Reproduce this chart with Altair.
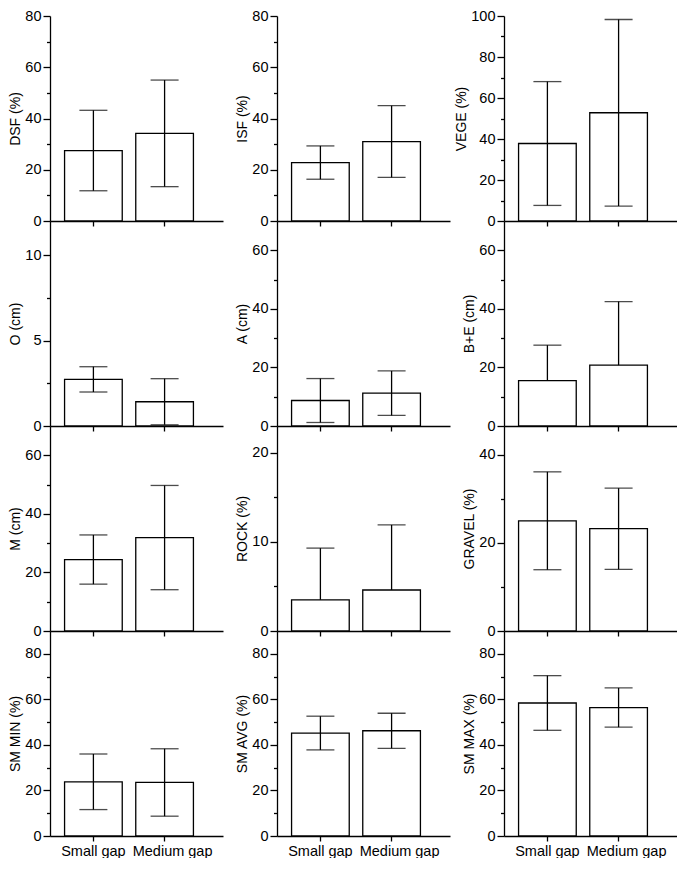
import altair as alt
import pandas as pd

gaps = ["Small gap", "Medium gap"]
titles = ["DSF (%)", "ISF (%)", "VEGE (%)",
          "O (cm)", "A (cm)", "B+E (cm)",
          "M (cm)", "ROCK (%)", "GRAVEL (%)",
          "SM MIN (%)", "SM AVG (%)", "SM MAX (%)"]
small_mean = [27.5, 22.8, 37.8, 2.73, 8.7, 15.5, 24.4, 3.5, 25.0, 23.8, 45.2, 58.4]
small_sd = [15.7, 6.5, 30.2, 0.74, 7.5, 12.1, 8.4, 5.8, 11.1, 12.2, 7.4, 12.0]
medium_mean = [34.2, 31.0, 52.8, 1.42, 11.2, 20.8, 31.9, 4.6, 23.2, 23.5, 46.2, 56.4]
medium_sd = [20.8, 14.0, 45.5, 1.35, 7.6, 21.7, 17.8, 7.3, 9.2, 14.8, 7.7, 8.6]
upper_only = [False, False, False, False, False, True, False, True, False, False, False, False]
y_max = [80, 80, 100, 12, 70, 70, 70, 23, 46.5, 90, 90, 90]
major_step = [20, 20, 20, 5, 20, 20, 20, 10, 20, 20, 20, 20]

FONT = "Liberation Sans"
W, H = 173, 205
LW = 1.3


def panel(i, row):
    means = [small_mean[i], medium_mean[i]]
    sds = [small_sd[i], medium_sd[i]]
    his = [m + s for m, s in zip(means, sds)]
    los = [m if upper_only[i] else m - s for m, s in zip(means, sds)]
    df = pd.DataFrame({"gap": gaps, "mean": means, "lo": los, "hi": his})
    step = major_step[i]
    ymax = y_max[i]
    half = step / 2
    vals = []
    k = 0
    while k * half <= ymax + 1e-9:
        v = k * half
        if k % 2 == 0 or v < ymax - 1e-9:
            vals.append(v)
        k += 1
    yscale = alt.Scale(domain=[0, ymax], nice=False, zero=True)
    yaxis = alt.Axis(
        values=vals,
        title=titles[i],
        labelExpr=f"datum.value % {step} == 0 ? datum.label : ''",
        tickSize={"condition": {"test": f"datum.value % {step} == 0", "value": 7}, "value": 3.5},
        grid=False,
    )
    xscale = alt.Scale(paddingInner=0.19, paddingOuter=0.31, align=0.33)
    xaxis = alt.Axis(
        title=None, labels=(row == 3), labelAngle=0, tickSize=5, labelPadding=3,
        labelOffset={"condition": {"test": "datum.value == 'Medium gap'", "value": 8}, "value": 0},
    )
    x = alt.X("gap:N", sort=gaps, scale=xscale, axis=xaxis)
    base = alt.Chart(df)
    bars = base.mark_bar(fill="white", stroke="black", strokeWidth=LW).encode(
        x=x, y=alt.Y("mean:Q", scale=yscale, axis=yaxis))
    err = base.mark_rule(color="black", strokeWidth=LW).encode(
        x=x, y=alt.Y("lo:Q", scale=yscale, axis=yaxis), y2="hi:Q")
    cap_hi = base.mark_tick(color="black", size=28, thickness=LW).encode(
        x=x, y=alt.Y("hi:Q", scale=yscale, axis=yaxis))
    layers = [bars, err, cap_hi]
    if not upper_only[i]:
        cap_lo = base.mark_tick(color="black", size=28, thickness=LW).encode(
            x=x, y=alt.Y("lo:Q", scale=yscale, axis=yaxis))
        layers.append(cap_lo)
    return alt.layer(*layers).properties(width=W, height=H)


panels = [panel(i, i // 3) for i in range(12)]

chart = alt.concat(
    *panels, columns=3, spacing=alt.RowColnumber(row=0, column=54), bounds="flush"
).properties(padding=0).configure_axis(
    labelFont=FONT, titleFont=FONT, labelFontSize=14.5, titleFontSize=14,
    titleFontWeight="normal", domainColor="black", tickColor="black",
    labelColor="black", titleColor="black", domainWidth=LW, tickWidth=LW,
    labelPadding=2, titlePadding=2, grid=False,
).configure_view(stroke=None)

chart.save("out.html", embed_options={"renderer": "svg", "actions": False})
